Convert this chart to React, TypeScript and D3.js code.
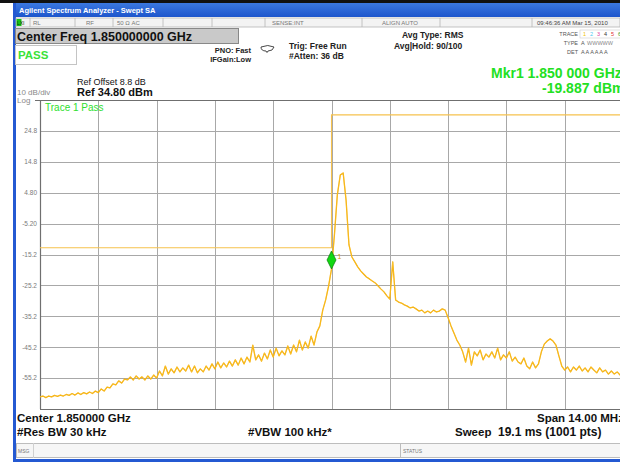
import React from "react";
import * as d3 from "d3";

// Sweep: 201 displayed points over a 14 MHz span centred on 1.85 GHz (offsets in MHz)
const START_MHZ = -7;
const STEP_MHZ = 0.07;
const levels = [
  -61.3, -61.0, -61.5, -61.0, -61.3, -60.8, -61.1, -60.7, -61.0, -60.5,
  -60.8, -60.2, -60.7, -60.0, -60.5, -59.9, -60.3, -59.7, -60.2, -59.4,
  -59.9, -58.7, -59.4, -58.1, -58.4, -57.1, -57.4, -56.1, -56.8, -55.5,
  -55.8, -54.8, -55.8, -54.5, -55.5, -54.8, -55.8, -54.5, -55.5, -54.2,
  -55.2, -52.9, -54.5, -51.3, -53.9, -52.2, -53.5, -51.6, -53.2, -51.9,
  -52.9, -51.0, -53.2, -51.3, -53.5, -52.2, -53.2, -51.3, -52.6, -50.6,
  -52.2, -50.0, -51.9, -50.3, -51.6, -49.7, -51.3, -49.3, -51.0, -48.7,
  -50.6, -48.4, -50.0, -44.5, -49.3, -47.7, -49.7, -47.1, -49.0, -46.1,
  -48.4, -45.5, -48.0, -46.4, -47.7, -44.8, -47.4, -44.5, -46.7, -42.9,
  -46.1, -43.5, -45.5, -41.6, -44.5, -40.3, -38.3, -33.2, -29.9, -25.4,
  -19.9, -8.9, 4.1, 10.5, 11.2, 2.4, -12.1, -16.0, -17.6, -19.2,
  -20.5, -21.5, -22.5, -23.1, -23.8, -24.4, -25.4, -26.4, -27.3, -28.6,
  -29.6, -17.6, -29.9, -30.6, -30.9, -31.5, -31.9, -32.5, -32.2, -32.8,
  -33.5, -33.2, -34.1, -33.5, -34.1, -33.2, -33.8, -33.5, -32.8, -33.2,
  -35.7, -38.3, -40.6, -42.9, -44.5, -46.7, -50.0, -45.5, -51.0, -46.7,
  -48.0, -46.1, -49.3, -47.4, -48.4, -46.7, -48.7, -45.5, -49.3, -47.7,
  -48.7, -46.7, -49.7, -48.4, -50.0, -50.6, -48.7, -51.3, -52.2, -50.0,
  -51.9, -50.6, -46.7, -44.2, -43.2, -42.5, -43.2, -44.5, -48.0, -51.3,
  -52.6, -51.6, -53.2, -51.6, -52.6, -51.3, -52.9, -51.9, -53.2, -51.6,
  -52.6, -53.5, -51.9, -53.2, -52.6, -53.9, -52.9, -53.9, -53.2, -54.2,
  -54.5,
];

const REF_LEVEL = 34.8;
const DB_PER_DIV = 10;
const yTickValues = [24.8, 14.8, 4.8, -5.2, -15.2, -25.2, -35.2, -45.2, -55.2];
const yTickLabels = ["24.8", "14.8", "4.80", "-5.20", "-15.2", "-25.2", "-35.2", "-45.2", "-55.2"];
const xGridMHz = [-7, -5.6, -4.2, -2.8, -1.4, 0, 1.4, 2.8, 4.2, 5.6, 7];

const limitFreqs = [-7, 0, 0, 7];
const limitLevels = [-13, -13, 30, 30];

const markerFreq = 0;
const markerLevel = -19.887;

const FONT = "'Liberation Sans', Arial, sans-serif";

export default function App() {
  const L = 40, R = 623, T = 100, B = 409;
  const x = d3.scaleLinear().domain([-7, 7]).range([L, R]);
  const y = d3.scaleLinear().domain([REF_LEVEL - 10 * DB_PER_DIV, REF_LEVEL]).range([B, T]);

  const pts = levels.map((v, i) => [START_MHZ + i * STEP_MHZ, v] as [number, number]);
  const line = d3.line<[number, number]>().x((d) => x(d[0])).y((d) => y(d[1]));
  const tracePath = line(pts) || "";
  const limitPath = line(limitFreqs.map((f, i) => [f, limitLevels[i]] as [number, number])) || "";

  const mx = x(markerFreq), my = y(markerLevel);

  const statusSeps = [30, 75, 113, 163, 212, 265, 362, 440, 532];

  return (
    <svg width={620} height={462} style={{ position: "absolute", left: 0, top: 0, background: "#fff" }} fontFamily={FONT}>
      <defs>
        <linearGradient id="tb" x1="0" x2="0" y1="0" y2="1">
          <stop offset="0" stopColor="#3b78e0" />
          <stop offset="1" stopColor="#1d55cc" />
        </linearGradient>
        <clipPath id="plotclip">
          <rect x={L} y={T - 2} width={620 - L} height={B - T + 4} />
        </clipPath>
      </defs>
      <rect x={0} y={0} width={620} height={462} fill="#fff" />
      {/* frame */}
      <rect x={0} y={0} width={620} height={3} fill="#111" />
      <rect x={13} y={3} width={607} height={14} fill="url(#tb)" />
      <rect x={13} y={3} width={3} height={459} fill="#2459d2" />
      <rect x={13} y={459} width={607} height={3} fill="#2459d2" />
      <text x={19} y={13} fill="#fff" fontSize={7.5} fontWeight="bold">Agilent Spectrum Analyzer - Swept SA</text>

      {/* status row */}
      <rect x={16} y={18} width={604} height={9} fill="#f3f3f3" stroke="#b5b5b5" strokeWidth={0.8} />
      {statusSeps.map((s) => (
        <line key={s} x1={s} x2={s} y1={18} y2={27} stroke="#b5b5b5" strokeWidth={0.8} />
      ))}
      <rect x={16.5} y={19} width={5} height={7} fill="#16c416" />
      <text x={17} y={25} fontSize={5} fill="#113311">LXI</text>
      <g fontSize={6} fill="#777">
        <text x={33} y={25}>RL</text>
        <text x={86} y={25}>RF</text>
        <text x={117} y={25}>50 Ω   AC</text>
        <text x={272} y={25}>SENSE:INT</text>
        <text x={382} y={25}>ALIGN AUTO</text>
        <text x={537} y={25} fill="#444">09:46:36 AM Mar 15, 2010</text>
      </g>

      {/* center freq box */}
      <rect x={15.5} y={28.5} width={223} height={15} fill="#c9c9c9" stroke="#888" strokeWidth={1} />
      <text x={17} y={40.5} fontSize={12.5} fontWeight="bold" fill="#111">Center Freq 1.850000000 GHz</text>
      <rect x={15.5} y={45.5} width={61} height={19} fill="#fff" stroke="#c4c4c4" strokeWidth={1} />
      <text x={18} y={59} fontSize={11.5} fill="#3ae23a" fontWeight="bold">PASS</text>

      <g fontSize={7.5} fontWeight="bold" fill="#222">
        <text x={251} y={53} textAnchor="end">PNO: Fast</text>
        <text x={251} y={62} textAnchor="end">IFGain:Low</text>
      </g>
      <path d="M261,47 q7,-3 13,0 q-1,4 -6,4 l-1,1.5 l-1,-1.5 q-5,0 -5,-4z" fill="#fff" stroke="#333" strokeWidth={0.9} />
      <g fontSize={8.5} fontWeight="bold" fill="#222">
        <text x={289} y={49}>Trig: Free Run</text>
        <text x={289} y={59}>#Atten: 36 dB</text>
        <text x={402} y={38}>Avg Type: RMS</text>
        <text x={394} y={49}>Avg|Hold: 90/100</text>
      </g>
      <g fontSize={5.5} fill="#555">
        <text x={578} y={36} textAnchor="end">TRACE</text>
        <text x={578} y={45} textAnchor="end">TYPE</text>
        <text x={578} y={54} textAnchor="end">DET</text>
        <rect x={580} y={30} width={42} height={8} fill="#fff" stroke="#ccc" strokeWidth={0.6} />
        <text x={583} y={36} fill="#f2c200">1</text>
        <text x={590} y={36} fill="#49c8f0">2</text>
        <text x={597} y={36} fill="#e040a0">3</text>
        <text x={604} y={36} fill="#333">4</text>
        <text x={611} y={36} fill="#e03030">5</text>
        <text x={618} y={36} fill="#30a030">6</text>
        <text x={581} y={45}>A</text>
        <text x={587} y={45} fill="#888">WWWWW</text>
        <text x={581} y={54}>A A A A A A</text>
      </g>

      {/* marker readout */}
      <g fontSize={14} fontWeight="bold" fill="#22e022">
        <text x={491} y={78}>Mkr1 1.850 000 GHz</text>
        <text x={542} y={93}>-19.887 dBm</text>
      </g>

      <text x={77} y={85} fontSize={9} fill="#111">Ref Offset 8.8 dB</text>
      <text x={77} y={96} fontSize={11} fontWeight="bold" fill="#111">Ref 34.80 dBm</text>
      <text x={17} y={95} fontSize={8} fill="#8a8a8a">10 dB/div</text>
      <text x={17} y={103} fontSize={8} fill="#8a8a8a">Log</text>

      {/* grid */}
      <g stroke="#a8a8a8" strokeWidth={1}>
        {yTickValues.map((v) => (
          <line key={v} x1={L} x2={620} y1={Math.round(y(v)) + 0.5} y2={Math.round(y(v)) + 0.5} />
        ))}
        {xGridMHz.slice(1, -1).map((f) => (
          <line key={f} x1={Math.round(x(f)) + 0.5} x2={Math.round(x(f)) + 0.5} y1={T} y2={B} />
        ))}
      </g>
      <g stroke="#6f6f6f" strokeWidth={1.2}>
        <line x1={35} x2={620} y1={T + 0.5} y2={T + 0.5} />
        <line x1={L + 0.5} x2={L + 0.5} y1={T} y2={B} />
        <line x1={L} x2={620} y1={B + 0.5} y2={B + 0.5} />
      </g>
      <g fontSize={6.5} fill="#7a7a7a" textAnchor="end">
        {yTickValues.map((v, i) => (
          <text key={v} x={37} y={y(v) + 2.3}>{yTickLabels[i]}</text>
        ))}
      </g>
      <text x={45} y={111} fontSize={10} fill="#2ee02e">Trace 1 Pass</text>

      <g clipPath="url(#plotclip)">
        <path d={limitPath} fill="none" stroke="#f6c24e" strokeWidth={1.1} />
        <path d={tracePath} fill="none" stroke="#f3a900" strokeWidth={1.3} strokeLinejoin="round" />
        <path d={tracePath} fill="none" stroke="#ffd54a" strokeWidth={0.5} opacity={0.8} />
      </g>

      {/* marker */}
      <path d={`M${mx},${my} L${mx - 4.5},${my - 9} L${mx},${my - 18} L${mx + 4.5},${my - 9} Z`} fill="#12d812" stroke="#0a7a0a" strokeWidth={0.7} />
      <text x={mx + 6} y={my - 10} fontSize={7} fill="#d9a000">1</text>

      {/* bottom annotations */}
      <g fontSize={11.5} fontWeight="bold" fill="#111">
        <text x={17} y={422}>Center 1.850000 GHz</text>
        <text x={17} y={436}>#Res BW 30 kHz</text>
        <text x={248} y={436}>#VBW 100 kHz*</text>
        <text x={537} y={422}>Span 14.00 MHz</text>
        <text x={455} y={436}>Sweep</text>
        <text x={498} y={436} fontSize={12}>19.1 ms (1001 pts)</text>
      </g>
      <rect x={16.5} y={443.5} width={604} height={14} fill="#f6f6f6" stroke="#bdbdbd" strokeWidth={1} />
      <line x1={400.5} x2={400.5} y1={443} y2={458} stroke="#bdbdbd" />
      <line x1={33.5} x2={33.5} y1={443} y2={458} stroke="#d0d0d0" />
      <text x={18} y={453} fontSize={5} fill="#777">MSG</text>
      <text x={403} y={453} fontSize={5} fill="#777">STATUS</text>
    </svg>
  );
}
